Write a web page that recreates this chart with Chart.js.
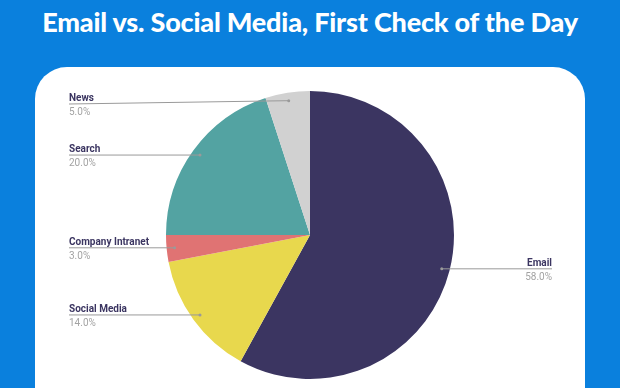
<!DOCTYPE html>
<html>
<head>
<meta charset="utf-8">
<script src="https://cdn.jsdelivr.net/npm/chart.js@4"></script>
<style>
  html, body { margin: 0; padding: 0; }
  body { width: 620px; height: 388px; background: #0a80dd; overflow: hidden; position: relative; font-family: Roboto, sans-serif; }
  h1 { position: absolute; top: 3px; left: 0; width: 620px; margin: 0; text-align: center; color: #fff;
       font-family: Lato, sans-serif; font-weight: 900; font-size: 27px; line-height: 38px; letter-spacing: -0.2px; }
  .card { position: absolute; left: 35px; top: 67px; width: 550px; height: 360px; background: #fff; border-radius: 32px; }
  canvas { position: absolute; left: 0; top: 0; }
</style>
</head>
<body>
<h1>Email vs. Social Media, First Check of the Day</h1>
<div class="card"></div>
<canvas id="pieChart" width="620" height="388"></canvas>
<script>
// Data
const categories = ['Email', 'Social Media', 'Company Intranet', 'Search', 'News'];
const shares = [58, 14, 3, 20, 5];
const sliceColors = ['#3b3561', '#e8d84d', '#e07373', '#53a3a2', '#d1d1d1'];

// Labels with leader lines, drawn after the slices
const leaderLabels = {
    id: 'leaderLabels',
    afterDatasetsDraw(chart) {
        const ctx = chart.ctx;
        const arcs = chart.getDatasetMeta(0).data;
        ctx.save();
        arcs.forEach((arc, i) => {
            const mid = (arc.startAngle + arc.endAngle) / 2;
            const r = arc.outerRadius - 8;
            const px = arc.x + Math.cos(mid) * r;
            const py = arc.y + Math.sin(mid) * r;
            const right = Math.cos(mid) > 0;
            const lineY = Math.max(py, 104);
            const textX = right ? 552 : 69;

            // leader line
            ctx.strokeStyle = '#9a9a9a';
            ctx.lineWidth = 1;
            ctx.beginPath();
            ctx.moveTo(px, py);
            ctx.lineTo(textX, lineY);
            ctx.stroke();
            ctx.fillStyle = '#9a9a9a';
            ctx.beginPath();
            ctx.arc(px, py, 1.5, 0, Math.PI * 2);
            ctx.fill();

            ctx.textAlign = right ? 'right' : 'left';
            ctx.textBaseline = 'alphabetic';
            ctx.font = 'bold 10px Roboto';
            ctx.fillStyle = '#3b3561';
            ctx.fillText(categories[i], textX, lineY - 3);
            ctx.font = '10px Roboto';
            ctx.fillStyle = '#a3a3a3';
            ctx.fillText(shares[i].toFixed(1) + '%', textX, lineY + 11);
        });
        ctx.restore();
    }
};

const pieChart = new Chart(document.getElementById('pieChart'), {
    type: 'pie',
    data: {
        labels: categories,
        datasets: [{
            data: shares,
            backgroundColor: sliceColors,
            borderWidth: 0
        }]
    },
    options: {
        responsive: false,
        animation: false,
        layout: { padding: { top: 91, bottom: 9, left: 0, right: 0 } },
        plugins: {
            legend: { display: false },
            tooltip: { enabled: false }
        }
    },
    plugins: [leaderLabels]
});
</script>
</body>
</html>
